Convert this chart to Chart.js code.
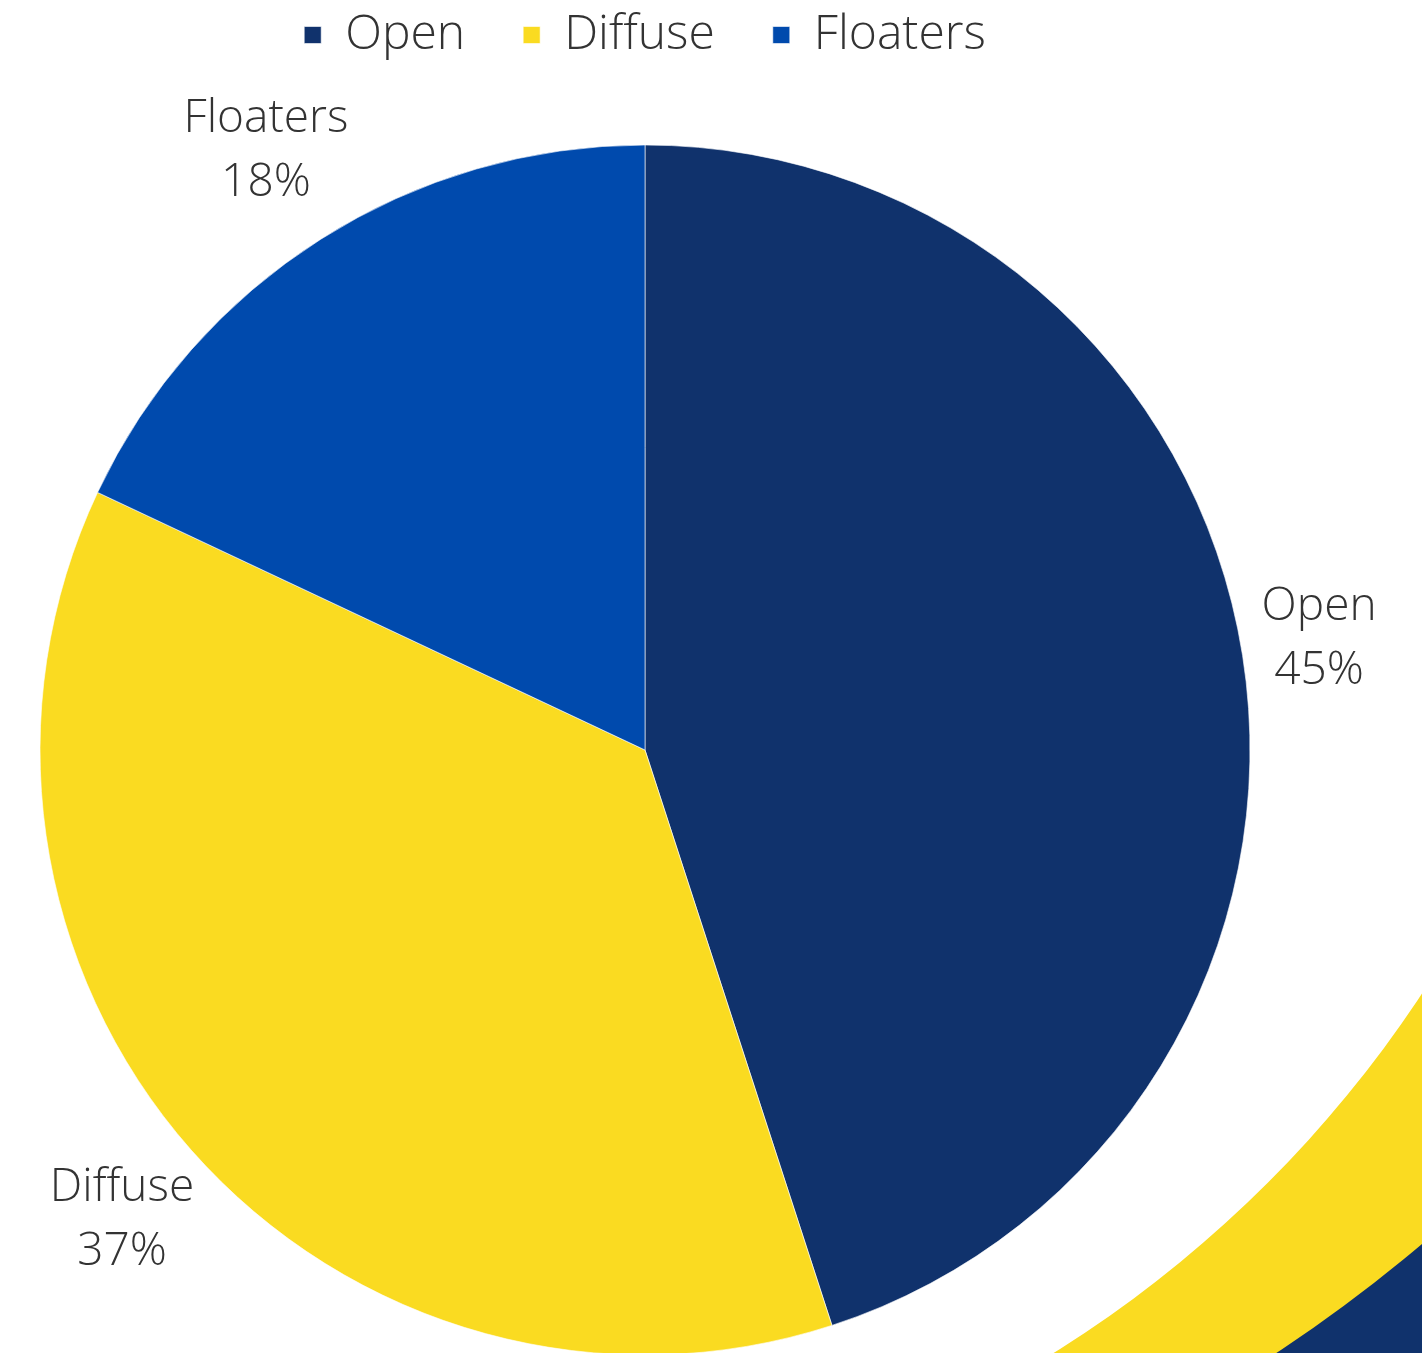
<!DOCTYPE html>
<html lang="en">
<head>
    <meta charset="UTF-8">
    <title>Open / Diffuse / Floaters</title>
    <script src="https://cdn.jsdelivr.net/npm/chart.js"></script>
    <style>
        body { margin: 0; background: #fff; }
        .wrap { width: 1422px; height: 1353px; overflow: hidden; position: relative; }
        #pieChart { display: block; }
    </style>
</head>
<body>
    <div class="wrap">
        <canvas id="pieChart" width="1422" height="1431"></canvas>
    </div>

    <script>
        const categories = ['Open', 'Diffuse', 'Floaters'];
        const shares = [45, 37, 18];
        const sliceColors = ['#10326c', '#fadb21', '#004aad'];

        const fontFamily = '"Open Sans", Lato, sans-serif';
        const textColor = '#333333';

        // corner decoration (the yellow / navy swoosh bottom right)
        const swoosh = {
            id: 'swoosh',
            beforeDraw(chart) {
                const ctx = chart.ctx;
                const w = chart.width, h = chart.height;
                ctx.save();
                ctx.fillStyle = '#fadb21';
                ctx.beginPath();
                ctx.rect(0, 0, w, h);
                ctx.arc(415, 330, 1206, 0, Math.PI * 2, true);
                ctx.fill('evenodd');
                ctx.fillStyle = '#10326c';
                ctx.beginPath();
                ctx.rect(0, 0, w, h);
                ctx.arc(420, 60, 1551, 0, Math.PI * 2, true);
                ctx.fill('evenodd');
                ctx.restore();
            }
        };

        // category + percentage outside each slice
        const outsideLabels = {
            id: 'outsideLabels',
            afterDatasetsDraw(chart) {
                const ctx = chart.ctx;
                const meta = chart.getDatasetMeta(0);
                const total = shares.reduce((a, b) => a + b, 0);
                ctx.save();
                ctx.font = '300 46px ' + fontFamily;
                ctx.fillStyle = textColor;
                ctx.textAlign = 'center';
                ctx.textBaseline = 'middle';
                meta.data.forEach((arc, i) => {
                    const p = arc.getProps(['x', 'y', 'startAngle', 'endAngle', 'outerRadius'], true);
                    const mid = (p.startAngle + p.endAngle) / 2;
                    const pct = Math.round(shares[i] / total * 100) + '%';
                    const halfW = Math.max(ctx.measureText(categories[i]).width, ctx.measureText(pct).width) / 2;
                    const x = p.x + Math.cos(mid) * (p.outerRadius + 20 + halfW);
                    const y = p.y + Math.sin(mid) * (p.outerRadius + 105);
                    ctx.fillText(categories[i], x, y - 32);
                    ctx.fillText(pct, x, y + 32);
                });
                ctx.restore();
            }
        };

        const ctx = document.getElementById('pieChart').getContext('2d');
        new Chart(ctx, {
            type: 'pie',
            data: {
                labels: categories,
                datasets: [{
                    data: shares,
                    backgroundColor: sliceColors,
                    borderColor: 'rgba(255,255,255,0.6)',
                    borderWidth: 1
                }]
            },
            options: {
                responsive: false,
                animation: false,
                radius: 605,
                layout: { padding: { top: -47, left: 0, right: 132, bottom: 0 } },
                plugins: {
                    legend: {
                        position: 'top',
                        labels: {
                            boxWidth: 17,
                            boxHeight: 17,
                            padding: 58,
                            color: textColor,
                            font: { family: fontFamily, size: 48, weight: 300 }
                        }
                    },
                    tooltip: { enabled: false }
                }
            },
            plugins: [swoosh, outsideLabels]
        });
    </script>
</body>
</html>
